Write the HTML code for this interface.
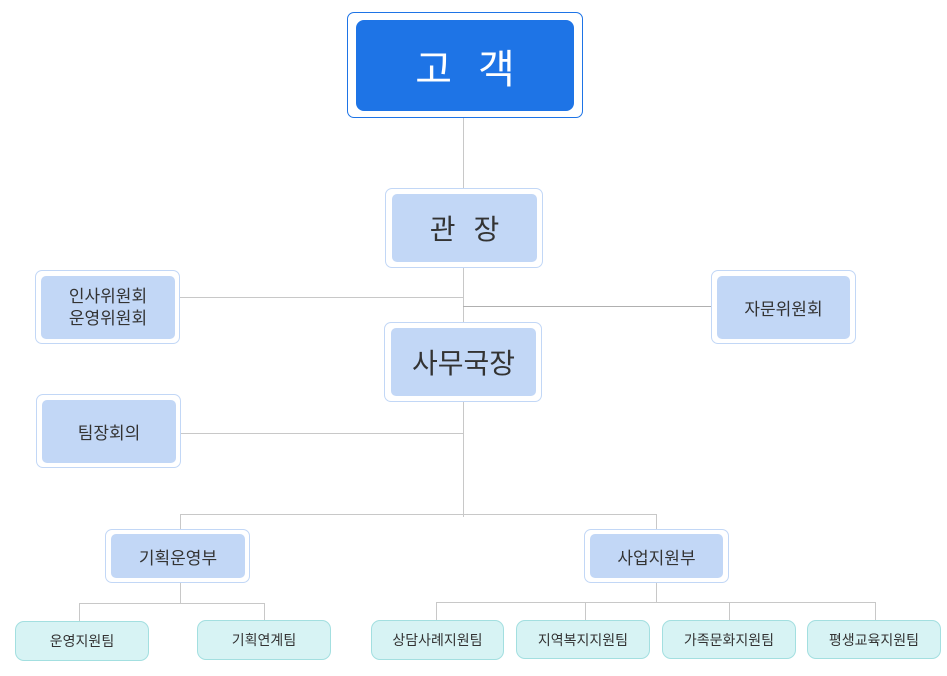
<!DOCTYPE html>
<html><head><meta charset="utf-8"><style>
body{margin:0;width:947px;height:676px;background:#fff;position:relative;overflow:hidden;font-family:"Liberation Sans","Noto Sans CJK KR",sans-serif;}
.o{position:absolute;border:1px solid #c2d7f6;border-radius:7px;background:#fff;box-sizing:border-box;}
.i{position:absolute;background:#c2d7f6;border-radius:5px;display:flex;align-items:center;justify-content:center;color:#333;text-align:center;box-sizing:border-box;}
.t{position:absolute;background:#d7f3f4;border:1px solid #a3dfe0;border-radius:9px;display:flex;align-items:center;justify-content:center;color:#333;font-size:14px;box-sizing:border-box;}
.h{position:absolute;height:1px;background:#c8c8c8;}
.v{position:absolute;width:1px;background:#c8c8c8;}
</style></head><body>
<!-- lines -->
<div class="v" style="left:463px;top:118px;height:399px"></div>
<div class="h" style="left:180px;top:297px;width:283px"></div>
<div class="h" style="left:463px;top:306px;width:248px;background:#b0b0b0"></div>
<div class="h" style="left:181px;top:433px;width:282px"></div>
<div class="h" style="left:180px;top:514px;width:477px"></div>
<div class="v" style="left:180px;top:514px;height:15px"></div>
<div class="v" style="left:656px;top:514px;height:15px"></div>
<div class="v" style="left:180px;top:583px;height:20px"></div>
<div class="h" style="left:79px;top:603px;width:186px"></div>
<div class="v" style="left:79px;top:603px;height:18px"></div>
<div class="v" style="left:264px;top:603px;height:18px"></div>
<div class="v" style="left:656px;top:583px;height:19px"></div>
<div class="h" style="left:436px;top:602px;width:440px"></div>
<div class="v" style="left:436px;top:602px;height:18px"></div>
<div class="v" style="left:585px;top:602px;height:18px"></div>
<div class="v" style="left:729px;top:602px;height:18px"></div>
<div class="v" style="left:875px;top:602px;height:18px"></div>

<div class="o" style="left:347px;top:12px;width:236px;height:106px;border-color:#1e74e6"></div>
<div class="i" style="left:356px;top:20px;width:218px;height:91px;background:#1e74e6;color:#fff;font-size:40px;border-radius:8px;letter-spacing:26px;padding-left:26px">고객</div>

<div class="o" style="left:385px;top:188px;width:158px;height:80px"></div>
<div class="i" style="left:392px;top:194px;width:145px;height:68px;font-size:28px;letter-spacing:18px;padding-left:18px">관장</div>

<div class="o" style="left:384px;top:322px;width:158px;height:80px"></div>
<div class="i" style="left:391px;top:328px;width:145px;height:68px;font-size:28px">사무국장</div>

<div class="o" style="left:35px;top:270px;width:145px;height:74px"></div>
<div class="i" style="left:41px;top:276px;width:134px;height:63px;font-size:17px;line-height:22px">인사위원회<br>운영위원회</div>

<div class="o" style="left:711px;top:270px;width:145px;height:74px"></div>
<div class="i" style="left:717px;top:276px;width:133px;height:63px;font-size:17px">자문위원회</div>

<div class="o" style="left:36px;top:394px;width:145px;height:74px"></div>
<div class="i" style="left:42px;top:400px;width:134px;height:63px;font-size:17px">팀장회의</div>

<div class="o" style="left:105px;top:529px;width:145px;height:54px"></div>
<div class="i" style="left:111px;top:534px;width:134px;height:44px;font-size:17px">기획운영부</div>

<div class="o" style="left:584px;top:529px;width:145px;height:54px"></div>
<div class="i" style="left:590px;top:534px;width:133px;height:44px;font-size:17px">사업지원부</div>

<div class="t" style="left:15px;top:621px;width:134px;height:40px">운영지원팀</div>
<div class="t" style="left:197px;top:620px;width:134px;height:40px">기획연계팀</div>
<div class="t" style="left:371px;top:620px;width:133px;height:40px">상담사례지원팀</div>
<div class="t" style="left:516px;top:620px;width:134px;height:39px">지역복지지원팀</div>
<div class="t" style="left:662px;top:620px;width:134px;height:39px">가족문화지원팀</div>
<div class="t" style="left:807px;top:620px;width:134px;height:39px">평생교육지원팀</div>
</body></html>
